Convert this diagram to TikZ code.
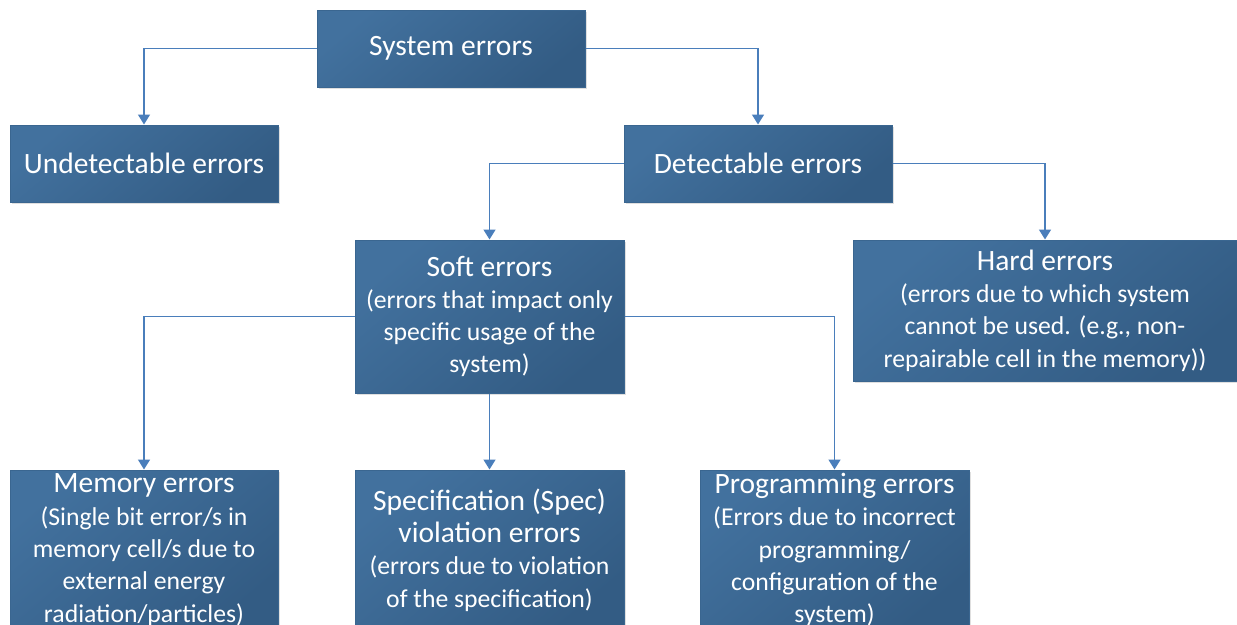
\documentclass[tikz,border=0pt]{standalone}
\usepackage{fontspec}
\setmainfont{Carlito}
\usetikzlibrary{arrows.meta,shadows}
\definecolor{boxA}{HTML}{42719E}
\definecolor{boxB}{HTML}{335C84}
\definecolor{boxLine}{HTML}{3A6690}
\definecolor{connC}{HTML}{4A7EBB}
\newcommand{\bodytxt}{\fontsize{25.7}{32.3}\selectfont}
\tikzset{
  errbox/.style={rectangle, draw=boxLine, line width=1pt,
    top color=boxA, bottom color=boxB, shading angle=40,
    text=white, align=center, inner sep=0pt,
    font=\fontsize{29.5}{32.3}\selectfont,
    drop shadow={opacity=0.25, shadow xshift=2pt, shadow yshift=-2pt}},
  conn/.style={draw=connC, line width=1.6pt,
    -{Triangle[width=12pt,length=10pt]}}
}
\begin{document}
\begin{tikzpicture}[x=1pt,y=-1pt]
\useasboundingbox (0,0) rectangle (1237,624);
\node[errbox, minimum width=268, minimum height=77] (sys) at (451,48.5) {System errors};
\node[errbox, minimum width=268, minimum height=77] (und) at (144,163.5) {Undetectable errors};
\node[errbox, minimum width=268, minimum height=77] (det) at (758,163.5) {Detectable errors};
\node[errbox, minimum width=269, minimum height=153] (soft) at (489.5,316.5) {Soft errors\\{\bodytxt (errors that impact only}\\{\bodytxt specific usage of the}\\{\bodytxt system)}};
\node[errbox, minimum width=384, minimum height=141] (hard) at (1045,310.5) {Hard errors\\{\bodytxt (errors due to which system}\\{\bodytxt cannot be used. (e.g., non-}\\{\bodytxt repairable cell in the memory))}};
\node[errbox, minimum width=268, minimum height=160] (mem) at (144,550) {Memory errors\\{\bodytxt (Single bit error/s in}\\{\bodytxt memory cell/s due to}\\{\bodytxt external energy}\\{\bodytxt radiation/particles)}};
\node[errbox, minimum width=269, minimum height=160] (spec) at (489.5,550) {Specification (Spec)\\violation errors\\{\bodytxt (errors due to violation}\\{\bodytxt of the specification)}};
\node[errbox, minimum width=269, minimum height=160] (prog) at (834.5,550) {Programming errors\\{\bodytxt (Errors due to incorrect}\\{\bodytxt programming/}\\{\bodytxt configuration of the}\\{\bodytxt system)}};
\draw[conn] (sys.west) -| (und.north);
\draw[conn] (sys.east) -| (det.north);
\draw[conn] (det.west) -| (soft.north);
\draw[conn] (det.east) -| (hard.north);
\draw[conn] (soft.west) -| (mem.north);
\draw[conn] (soft.south) -- (spec.north);
\draw[conn] (soft.east) -| (prog.north);
\end{tikzpicture}
\end{document}
